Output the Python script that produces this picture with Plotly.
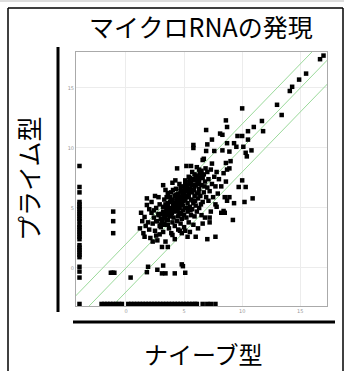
import plotly.graph_objects as go

# ---- data ----
# main cloud: naive (x) vs primed (y)
cloud_x = [1.2, 1.5, 1.6, 1.6, 1.8, 1.8, 1.9, 2.0, 2.1, 2.2, 1.4, 1.7, 2.0, 1.3,
           2.3, 2.7, 2.3, 2.4, 2.5, 2.6, 2.8, 2.8, 2.9, 2.2, 2.5, 2.7, 2.9, 2.4, 2.6, 3.0, 2.9,
           3.1, 3.4, 3.6, 3.2, 3.3, 3.1, 3.2, 3.3, 3.2, 3.4, 3.6, 3.5, 3.5, 3.6, 3.7, 3.8, 3.8,
           3.9, 3.9, 4.0, 4.0, 4.0, 3.4, 3.7, 3.9, 3.3, 3.6, 3.1, 3.8, 3.5, 3.95,
           4.1, 4.1, 4.2, 4.2, 4.2, 4.3, 4.3, 4.3, 4.4, 4.4, 4.4, 4.5, 4.5, 4.5, 4.6, 4.6, 4.6,
           4.7, 4.7, 4.7, 4.8, 4.8, 4.8, 4.9, 4.9, 4.9, 5.0, 5.0, 5.0, 4.15, 4.35, 4.55, 4.75,
           4.85, 4.25, 4.65, 4.95, 4.05, 4.45,
           5.1, 5.1, 5.1, 5.1, 5.2, 5.2, 5.2, 5.3, 5.3, 5.3, 5.3, 5.4, 5.4, 5.4, 5.5, 5.5, 5.5,
           5.6, 5.6, 5.6, 5.6, 5.7, 5.7, 5.7, 5.8, 5.8, 5.8, 5.8, 5.8, 5.9, 5.9, 5.9, 6.0, 6.0,
           6.0, 5.15, 5.35, 5.45, 5.65, 5.75, 5.95, 5.25, 5.55, 5.85, 5.05,
           6.1, 6.1, 6.1, 6.2, 6.2, 6.2, 6.3, 6.3, 6.4, 6.4, 6.5, 6.5, 6.5, 6.6, 6.6, 6.6, 6.7,
           6.7, 6.7, 6.8, 6.8, 6.9, 6.9, 6.9, 7.0, 7.0, 7.0, 7.0, 6.15, 6.35, 6.45, 6.75, 6.25,
           6.55, 6.85,
           7.1, 7.1, 7.2, 7.2, 7.2, 7.3, 7.3, 7.4, 7.4, 7.4, 7.5, 7.6, 7.6, 7.7, 7.7, 7.7, 7.8,
           7.8, 7.9, 8.0,
           8.1, 8.2, 8.3, 8.3, 8.4, 8.4, 8.5, 8.5, 8.6, 8.6, 8.7, 8.7, 8.7, 8.7, 8.9, 8.9, 8.9,
           8.2, 8.6,
           9.0, 9.2, 9.3, 9.3, 9.5, 9.6, 9.7, 10.0, 10.0, 10.0, 10.1, 10.2, 10.3, 10.3, 10.4,
           10.5, 10.5, 10.8, 10.9, 11.0, 11.7, 11.8,
           13.0, 13.4, 14.1, 14.3, 14.9, 15.5, 16.7, 17.0,
           # extra density in the core
           3.0, 3.15, 3.3, 3.45, 3.6, 3.75, 3.9, 4.05, 4.2, 4.35, 4.5, 4.65, 4.8, 4.95, 5.1,
           5.25, 5.4, 5.55, 5.7, 5.85, 6.0, 6.15, 6.3, 6.45, 6.6,
           3.5, 3.7, 3.9, 4.1, 4.3, 4.5, 4.7, 4.9, 5.1, 5.3, 5.5, 5.7, 5.9, 6.1, 6.3, 6.5,
           2.6, 2.8, 3.0, 3.2, 3.4, 3.6, 3.8, 4.0, 4.2, 4.4, 4.6, 4.8, 5.0, 5.2, 5.4]
cloud_y = [3.3, 2.9, 2.6, 4.25, 5.25, 5.8, 3.8, 4.9, 2.5, 4.6, 3.9, 3.5, 3.2, 4.6,
           2.2, 2.3, 3.7, 4.2, 3.1, 5.0, 5.9, 4.4, 3.5, 5.5, 6.0, 3.9, 2.8, 4.8, 2.7, 4.1, 5.3,
           1.75, 2.2, 1.75, 3.0, 3.6, 4.5, 5.1, 5.7, 6.9, 6.5, 6.25, 4.0, 4.8, 5.4, 3.3, 4.3, 5.9,
           2.9, 5.0, 2.75, 3.8, 7.1, 5.3, 4.6, 6.3, 4.2, 3.6, 3.9, 5.5, 5.9, 4.6,
           4.2, 5.4, 2.4, 3.5, 6.0, 4.7, 5.1, 6.6, 8.3, 3.9, 5.6, 4.3, 6.2, 3.2, 5.0, 4.6, 7.0,
           3.7, 5.4, 6.4, 4.1, 5.8, 2.9, 4.8, 5.2, 6.8, 3.4, 4.4, 6.1, 4.8, 5.8, 5.3, 4.5,
           6.2, 7.3, 3.1, 5.6, 6.5, 4.9,
           3.1, 5.0, 5.7, 7.3, 4.2, 6.4, 8.5, 2.6, 4.7, 5.4, 6.9, 3.8, 6.0, 7.6, 3.0, 5.1, 6.6,
           4.4, 5.7, 8.5, 7.1, 4.9, 6.3, 8.0, 3.6, 5.4, 7.4, 10.0, 10.25, 4.3, 6.0, 6.8, 2.6, 5.2,
           7.7, 6.0, 5.0, 7.2, 6.4, 5.6, 5.6, 5.9, 4.8, 6.5, 6.6,
           8.4, 4.7, 6.2, 3.3, 5.8, 7.0, 6.6, 5.0, 7.5, 6.0, 4.4, 6.9, 8.1, 3.7, 5.5, 9.0, 6.3,
           7.8, 9.1, 4.2, 7.2, 5.9, 9.75, 11.5, 2.4, 6.7, 8.0, 10.3, 7.3, 7.9, 5.3, 6.8, 6.3,
           7.6, 8.3,
           7.4, 5.6, 4.2, 3.8, 6.4, 4.7, 8.2, 10.7, 8.7, 7.0, 5.9, 9.75, 7.6, 5.3, 2.6, 6.8, 5.1,
           8.0, 6.2, 7.4,
           11.2, 4.6, 11.1, 9.8, 7.9, 4.75, 5.9, 4.6, 12.3, 8.75, 11.75, 10.4, 8.2, 5.6, 9.7, 8.3, 5.9,
           6.8, 7.2,
           8.9, 4.0, 10.4, 5.4, 10.1, 11.0, 6.75, 13.3, 11.0, 7.3, 10.1, 5.5, 9.6, 6.75, 9.3,
           11.4, 10.7, 9.8, 5.8, 11.75, 12.25, 11.4,
           13.6, 12.75, 14.75, 15.1, 15.7, 16.2, 17.4, 17.7,
           3.4, 4.1, 3.7, 4.5, 4.0, 4.9, 4.4, 5.2, 4.8, 5.6, 5.1, 5.9, 5.5, 6.3, 5.8,
           6.6, 6.2, 7.0, 6.5, 7.3, 6.9, 7.6, 7.2, 7.9, 7.5,
           5.0, 4.4, 5.6, 4.9, 6.1, 5.5, 6.7, 6.0, 7.1, 6.4, 7.5, 6.9, 7.8, 7.3, 8.2, 7.7,
           3.9, 4.5, 3.6, 4.7, 4.3, 5.2, 4.8, 5.7, 5.3, 6.1, 5.7, 6.4, 6.0, 6.8, 6.5]

# low outliers near zero in primed
low_x = [0.4, 1.8, 1.9, 2.7, 3.1, 3.2, 3.4, 4.2, 4.8, 4.9, 5.1]
low_y = [-0.8, -0.35, 0.1, -0.15, -0.45, 0.2, -0.45, -0.45, 0.3, 0.15, -0.4]

# small group near naive = -1
mid_x = [-1.1, -1.1, -1.1, -1.3, -1.15, -1.0]
mid_y = [4.7, 3.9, 2.9, -0.4, -0.4, -0.4]

# left column (naive at floor)
left_y = [8.5, 6.75, 6.3, 5.5, 5.3, 5.1, 4.9, 4.7, 4.5, 4.3, 4.1, 3.9, 3.6, 3.4, 3.2,
          3.0, 2.8, 2.6, 2.4, 1.9, 1.7, 1.5, 1.3, 1.1, 0.9, 0.1, -0.3, -0.8, -3.0]
left_x = [-4.0] * len(left_y)

# bottom row (primed at floor)
floor_x = [-2.1, -1.85, -1.6, -1.35, -1.1, -0.85, -0.6, -0.35,
           0.2, 0.45, 0.7, 0.95, 1.2, 1.45, 1.7, 1.95, 2.2, 2.45, 2.7, 2.95, 3.2, 3.45,
           3.7, 3.95, 4.2, 4.45, 4.7, 4.95, 5.2, 5.45, 5.7, 5.95, 6.1, 6.6, 7.0, 7.3, 7.7]
floor_y = [-3.0] * len(floor_x)

# reference lines y = x + offset
line_x = [-6, 20]
line_offsets = [-2, 0, 2]

x_ticks = [0, 5, 10, 15]
y_ticks = [0, 5, 10, 15]

all_x = cloud_x + low_x + mid_x + left_x + floor_x
all_y = cloud_y + low_y + mid_y + left_y + floor_y

fig = go.Figure()
for off in line_offsets:
    fig.add_trace(go.Scatter(x=line_x, y=[v + off for v in line_x], mode="lines",
                             line=dict(color="#9ad99a", width=1), hoverinfo="skip"))
fig.add_trace(go.Scatter(x=all_x, y=all_y, mode="markers",
                         marker=dict(symbol="square", size=4.5, color="black",
                                     line=dict(width=0))))

W, H = 344, 371
L, R, T, B = 76, 327, 52, 306
pw, ph = R - L, B - T


def px(xp):
    return (xp - L) / pw


def py(yp):
    return (B - yp) / ph


shapes = [
    # slide frame
    dict(type="line", xref="paper", yref="paper", x0=px(8), x1=px(8), y0=py(8), y1=py(372),
         line=dict(color="black", width=1.5)),
    dict(type="line", xref="paper", yref="paper", x0=px(8), x1=px(343), y0=py(8), y1=py(8),
         line=dict(color="black", width=1.5)),
    dict(type="line", xref="paper", yref="paper", x0=px(343), x1=px(343), y0=py(8), y1=py(372),
         line=dict(color="black", width=1.5)),
    dict(type="line", xref="paper", yref="paper", x0=px(0), x1=px(344), y0=py(1), y1=py(1),
         line=dict(color="#bbbbbb", width=1)),
    # thick axis bars
    dict(type="line", xref="paper", yref="paper", x0=px(58), x1=px(58), y0=py(47), y1=py(312),
         line=dict(color="black", width=3)),
    dict(type="line", xref="paper", yref="paper", x0=px(73), x1=px(335), y0=py(322), y1=py(322),
         line=dict(color="black", width=3)),
]

jp = "Noto Sans CJK JP"
annotations = [
    dict(text="マイクロRNAの発現", xref="paper", yref="paper", x=px(201), y=py(26),
         showarrow=False, font=dict(family=jp, size=25, color="black"),
         xanchor="center", yanchor="middle"),
    dict(text="ナイーブ型", xref="paper", yref="paper", x=px(203), y=py(353),
         showarrow=False, font=dict(family=jp, size=24, color="black"),
         xanchor="center", yanchor="middle"),
    dict(text="プライム型", xref="paper", yref="paper", x=px(28), y=py(179),
         showarrow=False, textangle=-90, font=dict(family=jp, size=25, color="black"),
         xanchor="center", yanchor="middle"),
]

axis_common = dict(showgrid=True, gridcolor="#ececec", gridwidth=1, zeroline=False,
                   showline=True, linecolor="#aaaaaa", linewidth=1, mirror=True,
                   ticks="", tickfont=dict(size=5, color="#999999", family="DejaVu Sans"))

fig.update_layout(
    width=W, height=H, margin=dict(l=L, r=W - R, t=T, b=H - B),
    paper_bgcolor="white", plot_bgcolor="white", showlegend=False,
    xaxis=dict(range=[-4.3, 17.3], tickvals=x_ticks, **axis_common),
    yaxis=dict(range=[-3.17, 18], tickvals=y_ticks, **axis_common),
    shapes=shapes, annotations=annotations,
)

fig.write_html("out.html", config={"displayModeBar": False},
               post_script="document.body.style.margin='0';document.body.style.overflow='hidden';")
